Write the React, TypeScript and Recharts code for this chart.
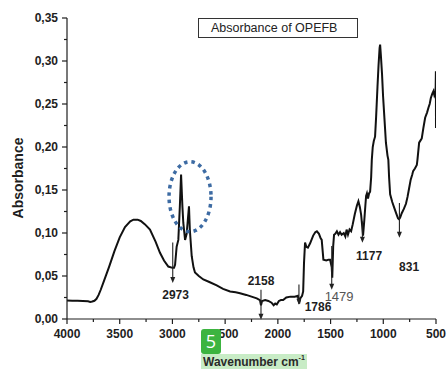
import React from 'react';
import { LineChart, Line, XAxis, YAxis, ReferenceLine, ReferenceDot } from 'recharts';

// FTIR spectrum of OPEFB
const wavenumbers = [
  4000, 3950, 3900, 3850, 3800, 3780, 3760, 3740, 3720, 3700, 3680, 3650, 3600, 3550, 3500, 3450,
  3400, 3370, 3330, 3300, 3260, 3213, 3160, 3118, 3080, 3039, 3000, 2985, 2975, 2960, 2944, 2930,
  2918, 2905, 2897, 2880, 2865, 2843, 2835, 2817, 2800, 2786, 2750, 2707, 2650, 2580, 2520, 2453,
  2400, 2359, 2300, 2250, 2200, 2170, 2160, 2150, 2120, 2090, 2060, 2040, 2025, 2010, 1990, 1970,
  1950, 1920, 1880, 1840, 1810, 1798, 1788, 1770, 1760, 1752, 1742, 1730, 1715, 1694, 1665, 1645,
  1630, 1610, 1595, 1584, 1568, 1540, 1520, 1505, 1489, 1484, 1475, 1467, 1455, 1440, 1425, 1410,
  1395, 1375, 1360, 1348, 1335, 1320, 1305, 1290, 1270, 1250, 1236, 1222, 1210, 1200, 1192, 1180,
  1170, 1163, 1155, 1145, 1135, 1125, 1115, 1109, 1100, 1090, 1078, 1068, 1055, 1045, 1035, 1030,
  1022, 1012, 1002, 990, 975, 960, 952, 945, 935, 915, 895, 875, 860, 850, 840, 825,
  805, 785, 770, 755, 740, 725, 717, 700, 682, 676, 660, 645, 635, 620, 603, 585,
  571, 560, 549, 535, 524, 515, 508, 503, 501, 500,
];

const absorbance = [
  0.0215, 0.0213, 0.0211, 0.0209, 0.0206, 0.0199, 0.0203, 0.0212, 0.0235, 0.028, 0.034, 0.044, 0.061, 0.079, 0.095, 0.107,
  0.1135, 0.1155, 0.1155, 0.114, 0.11, 0.104, 0.09, 0.077, 0.068, 0.061, 0.0595, 0.0595, 0.063, 0.084, 0.092, 0.13,
  0.168, 0.13, 0.112, 0.092, 0.099, 0.131, 0.104, 0.073, 0.06, 0.054, 0.05, 0.046, 0.043, 0.039, 0.035, 0.032,
  0.031, 0.03, 0.028, 0.026, 0.024, 0.022, 0.016, 0.021, 0.022, 0.021, 0.019, 0.016, 0.018, 0.017, 0.021, 0.022,
  0.022, 0.025, 0.026, 0.026, 0.027, 0.018, 0.024, 0.027, 0.032, 0.065, 0.089, 0.084, 0.083, 0.088, 0.097, 0.101,
  0.102, 0.099, 0.094, 0.092, 0.069, 0.068, 0.069, 0.069, 0.06, 0.048, 0.085, 0.098, 0.099, 0.102, 0.098, 0.101,
  0.098, 0.1, 0.096, 0.104, 0.098, 0.104, 0.102, 0.11, 0.122, 0.132, 0.137, 0.13, 0.121, 0.108, 0.097, 0.115,
  0.132, 0.143, 0.146, 0.14, 0.146, 0.148, 0.165, 0.185, 0.2, 0.207, 0.212, 0.235, 0.27, 0.295, 0.315, 0.319,
  0.305, 0.285, 0.259, 0.235, 0.205, 0.19, 0.185, 0.165, 0.145, 0.136, 0.129, 0.122, 0.117, 0.116, 0.118, 0.123,
  0.128, 0.134, 0.142, 0.152, 0.162, 0.168, 0.172, 0.175, 0.179, 0.185, 0.205, 0.208, 0.21, 0.222, 0.234, 0.24,
  0.246, 0.25, 0.257, 0.262, 0.265, 0.26, 0.262, 0.27, 0.288, 0.222,
];

const xTicks = [500, 750, 1000, 1250, 1500, 1750, 2000, 2250, 2500, 2750, 3000, 3250, 3500, 3750, 4000];
const yTicks = [0, 0.025, 0.05, 0.075, 0.1, 0.125, 0.15, 0.175, 0.2, 0.225, 0.25, 0.275, 0.3, 0.325, 0.35];

// band markers: wavenumber of the arrow, top and tip of the arrow, label anchor
const bandLabels = ['2973', '2158', '1786', '1479', '1177', '831'];
const bandX = [2997, 2160, 1800, 1489, 1198, 847];
const bandTop = [0.089, 0.034, 0.04, 0.085, 0.1135, 0.135];
const bandTip = [0.042, -0.001, 0.0166, 0.034, 0.0887, 0.0945];
const bandLabelX = [2970, 2160, 1619, 1419, 1135, 755];
const bandLabelY = [0.028, 0.0445, 0.0147, 0.0263, 0.0736, 0.061];

const data = wavenumbers.map((wn, i) => ({ wn, a: absorbance[i] }));

const FONT = '"Liberation Sans", Arial, sans-serif';
const INK = '#1e1e1e';

const XTick = ({ x, y, payload }: any) => {
  const v = payload.value;
  const major = v % 500 === 0;
  return (
    <g>
      <line x1={x} x2={x} y1={y} y2={y + (major ? 5 : 3)} stroke={INK} strokeWidth={1.2} />
      {major && (
        <text x={x} y={y + 18.5} textAnchor="middle" fontSize={12} fontWeight="bold" fill={INK} fontFamily={FONT}>
          {v}
        </text>
      )}
    </g>
  );
};

const YTick = ({ x, y, payload }: any) => {
  const v = payload.value;
  const major = Math.abs(v * 20 - Math.round(v * 20)) < 1e-6;
  return (
    <g>
      <line x1={x - (major ? 5 : 3)} x2={x} y1={y} y2={y} stroke={INK} strokeWidth={1.2} />
      {major && (
        <text x={x - 9} y={y + 4.3} textAnchor="end" fontSize={12} fontWeight="bold" fill={INK} fontFamily={FONT}>
          {v.toFixed(2).replace('.', ',')}
        </text>
      )}
    </g>
  );
};

const arrowShape = (p: any) => {
  const { x1, y1, x2, y2 } = p;
  const top = Math.min(y1, y2);
  const tip = Math.max(y1, y2);
  return (
    <g>
      <line x1={x1} x2={x2} y1={top} y2={tip - 4} stroke="#222" strokeWidth={1.1} />
      <path d={`M${x1 - 2.5},${tip - 6} L${x1 + 2.5},${tip - 6} L${x1},${tip} Z`} fill="#222" />
    </g>
  );
};

export default function App() {
  return (
    <div style={{ position: 'relative', width: 447, height: 371, background: '#fff', fontFamily: FONT }}>
      <style>{'body{margin:0}'}</style>
      <LineChart width={447} height={371} data={data} margin={{ top: 18, right: 11, bottom: 22, left: 0 }}>
        <XAxis
          dataKey="wn"
          type="number"
          domain={[500, 4000]}
          reversed
          ticks={xTicks}
          interval={0}
          tick={<XTick />}
          tickLine={false}
          tickSize={0}
          tickMargin={0}
          height={30}
          axisLine={{ stroke: INK, strokeWidth: 1.2 }}
          allowDataOverflow
        />
        <YAxis
          type="number"
          domain={[0, 0.35]}
          ticks={yTicks}
          interval={0}
          tick={<YTick />}
          tickLine={false}
          tickSize={0}
          tickMargin={0}
          width={67}
          axisLine={{ stroke: INK, strokeWidth: 1.2 }}
          allowDataOverflow
        />
        <Line
          dataKey="a"
          type="linear"
          stroke="#111"
          strokeWidth={2}
          dot={false}
          isAnimationActive={false}
        />
        {bandX.map((wn, i) => (
          <ReferenceLine
            key={'m' + i}
            segment={[
              { x: wn, y: bandTop[i] },
              { x: wn, y: bandTip[i] },
            ]}
            ifOverflow="visible"
            shape={arrowShape}
          />
        ))}
        {bandLabels.map((lbl, i) => (
          <ReferenceDot
            key={'l' + i}
            x={bandLabelX[i]}
            y={bandLabelY[i]}
            ifOverflow="visible"
            shape={(p: any) => (
              <text
                x={p.cx}
                y={p.cy + 4.5}
                textAnchor="middle"
                fontSize={lbl === '1479' ? 13 : 12}
                fontWeight={lbl === '1479' ? 'normal' : 'bold'}
                fill={lbl === '1479' ? '#555' : INK}
                fontFamily={FONT}
              >
                {lbl}
              </text>
            )}
          />
        ))}
        <ReferenceDot
          x={2833}
          y={0.1422}
          ifOverflow="visible"
          shape={(p: any) => (
            <ellipse
              cx={p.cx}
              cy={p.cy}
              rx={21}
              ry={35}
              fill="none"
              stroke="#3d6ba3"
              strokeWidth={3.5}
              strokeDasharray="3.5 4"
            />
          )}
        />
      </LineChart>

      <div
        style={{
          position: 'absolute',
          left: 198,
          top: 18,
          width: 146,
          height: 18,
          border: '1px solid #333',
          fontSize: 12.5,
          lineHeight: '18px',
          color: '#222',
          paddingLeft: 12,
          boxSizing: 'content-box',
          whiteSpace: 'nowrap',
        }}
      >
        Absorbance of OPEFB
      </div>

      <div
        style={{
          position: 'absolute',
          left: 17.5,
          top: 178,
          transform: 'translate(-50%, -50%) rotate(-90deg)',
          fontSize: 14,
          fontWeight: 'bold',
          color: INK,
          whiteSpace: 'nowrap',
        }}
      >
        Absorbance
      </div>

      <div
        style={{
          position: 'absolute',
          left: 201,
          top: 354,
          height: 15,
          padding: '0 2px',
          background: '#c8ecc6',
          fontSize: 12,
          fontWeight: 'bold',
          lineHeight: '16px',
          color: '#2a2a2a',
          whiteSpace: 'nowrap',
        }}
      >
        Wavenumber cm<sup style={{ fontSize: 7, verticalAlign: 'top', lineHeight: '8px' }}>-1</sup>
      </div>

      <div
        style={{
          position: 'absolute',
          left: 201,
          top: 329,
          width: 20,
          height: 25,
          borderRadius: 3,
          background: '#3cb440',
          color: '#fff',
          fontSize: 18,
          lineHeight: '25px',
          textAlign: 'center',
          fontFamily: '"Open Sans", sans-serif',
        }}
      >
        5
      </div>
    </div>
  );
}
